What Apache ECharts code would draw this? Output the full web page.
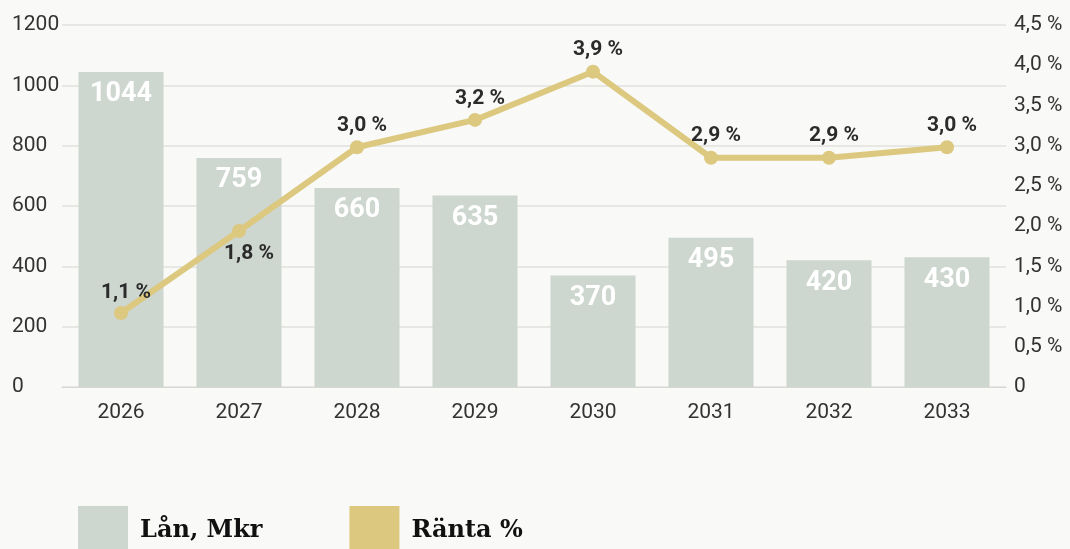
<!DOCTYPE html>
<html><head><meta charset="utf-8">
<script src="https://cdn.jsdelivr.net/npm/echarts@6/dist/echarts.min.js"></script>
<style>html,body{margin:0;padding:0;background:#f9f9f7}#c{width:1070px;height:549px}</style>
</head><body><div id="c"></div>
<script>
const years = ['2026','2027','2028','2029','2030','2031','2032','2033'];
const loans = [1044, 759, 660, 635, 370, 495, 420, 430];
const rates = [0.92, 1.94, 2.98, 3.32, 3.92, 2.85, 2.85, 2.98];
const rateLabels = ['1,1 %','1,8 %','3,0 %','3,2 %','3,9 %','2,9 %','2,9 %','3,0 %'];
const seriesNames = ['Lån, Mkr', 'Ränta %'];

const tickFont = 'Roboto, sans-serif';
const chart = echarts.init(document.getElementById('c'));
chart.setOption({
  backgroundColor: '#f9f9f7',
  animation: false,
  grid: {left: 62, right: 64, top: 25, bottom: 162},
  legend: {
    data: seriesNames, icon: 'rect', left: 78, top: 506, padding: 0,
    itemWidth: 50, itemHeight: 50, itemGap: 87,
    textStyle: {fontFamily: '"DejaVu Serif", serif', fontWeight: 'bold', fontSize: 24, color: '#111', padding: [0,0,0,7]}
  },
  xAxis: {
    type: 'category', data: years,
    axisLine: {lineStyle: {color: '#d6d6d2'}}, axisTick: {show: false},
    axisLabel: {color: '#333', fontFamily: tickFont, fontSize: 21, margin: 15}
  },
  yAxis: [{
    type: 'value', min: 0, max: 1200, interval: 200,
    axisLine: {show: false}, axisTick: {show: false},
    splitLine: {lineStyle: {color: '#e0e0dc', width: 1.5}},
    axisLabel: {color: '#333', fontFamily: tickFont, fontSize: 21, align: 'left', margin: 50,
      formatter: v => String(v)}
  }, {
    type: 'value', min: 0, max: 4.5, interval: 0.5,
    axisLine: {show: false}, axisTick: {show: false}, splitLine: {show: false},
    axisLabel: {color: '#333', fontFamily: tickFont, fontSize: 21, margin: 8,
      formatter: v => v === 0 ? '0' : v.toFixed(1).replace('.', ',') + ' %'}
  }],
  series: [{
    name: seriesNames[0], type: 'bar', yAxisIndex: 0, data: loans, barWidth: 85,
    itemStyle: {color: '#cdd6cf'},
    label: {show: true, position: 'insideTop', distance: 9, color: '#fff',
      fontFamily: tickFont, fontWeight: 'bold', fontSize: 27}
  }, {
    name: seriesNames[1], type: 'line', yAxisIndex: 1,
    data: rates.map((v, i) => i === 1
      ? {value: v, label: {position: 'bottom', distance: 5, offset: [10, 0]}}
      : i === 0 ? {value: v, label: {offset: [5, 1]}} : v),
    color: '#dcc87f',
    lineStyle: {color: '#dcc87f', width: 6},
    symbol: 'circle', symbolSize: 14, itemStyle: {color: '#dcc87f'},
    label: {show: true, position: 'top', distance: 4, offset: [5, 0], color: '#2b2b2b',
      fontFamily: tickFont, fontWeight: 'bold', fontSize: 21,
      formatter: p => rateLabels[p.dataIndex]}
  }]
});
</script></body></html>
